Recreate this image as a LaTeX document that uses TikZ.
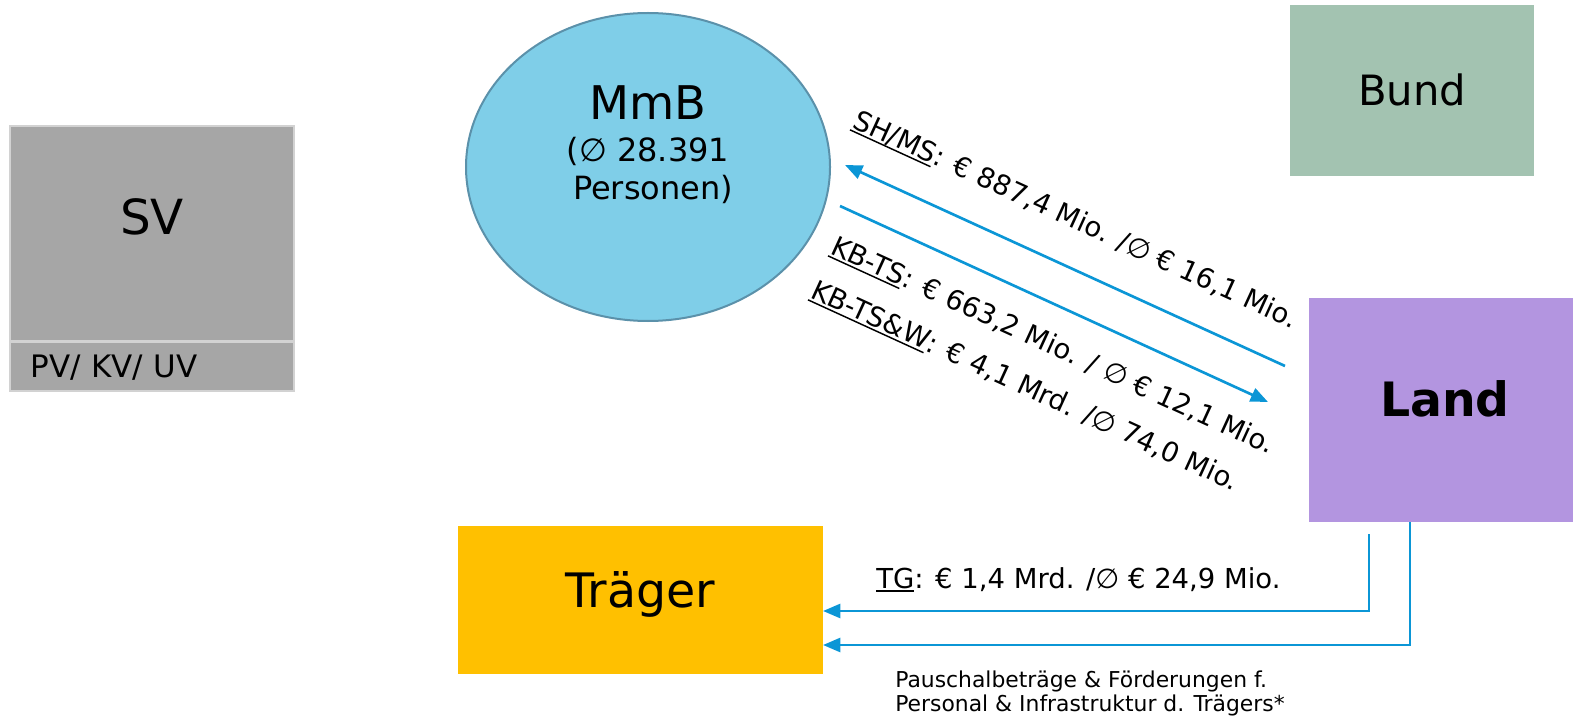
\documentclass[tikz,border=0pt]{standalone}
\usepackage{fontspec}
\setmainfont{DejaVu Sans}
\usetikzlibrary{arrows.meta,shapes.geometric}
\definecolor{svgray}{HTML}{A6A6A6}
\definecolor{svline}{HTML}{D2D2D2}
\definecolor{mmbfill}{HTML}{7FCEE8}
\definecolor{mmbline}{HTML}{5B91AA}
\definecolor{bundfill}{HTML}{A3C3B1}
\definecolor{landfill}{HTML}{B395E0}
\definecolor{traegerfill}{HTML}{FFC000}
\definecolor{arrowblue}{HTML}{0B96D6}
\newcommand\myul[1]{\setbox0\hbox{#1}\rlap{\rule[-2.8pt]{\wd0}{1.1pt}}\box0}
\begin{document}
\begin{tikzpicture}[x=0.75pt,y=-0.75pt,
  box/.style={rectangle, inner sep=0pt, outer sep=0pt},
  flow/.style={draw=arrowblue, line width=2pt, -{Triangle[length=13pt,width=10.5pt]}},
  lbl/.style={inner sep=0pt, anchor=base west, font=\fontsize{20.6}{24}\selectfont},
  small/.style={inner sep=0pt, anchor=base west, font=\fontsize{16.4}{19}\selectfont},
]
\useasboundingbox (0,0) rectangle (1573,720);

% SV
\node[box, fill=svgray, draw=svline, line width=1.5pt, minimum width=213pt, minimum height=161.25pt,
      font=\fontsize{36.3}{40}\selectfont, text height=26.4pt, text depth=25.5pt] (sv) at (152,233.5) {SV};
\node[box, fill=svgray, draw=svline, line width=1.5pt, minimum width=213pt, minimum height=36.75pt,
      font=\fontsize{23.2}{26}\selectfont, text width=181.5pt, align=left, text height=16.9pt, text depth=0pt] (svpv) at (152,366.5) {PV/ KV/ UV};

% MmB
\node[ellipse, fill=mmbfill, draw=mmbline, line width=1.5pt, minimum width=273pt, minimum height=231pt, inner sep=0pt] (mmb) at (648,167) {};
\node[inner sep=0pt, anchor=base, font=\fontsize{34.8}{40}\selectfont] (mmbA) at (648,120) {MmB};
\node[inner sep=0pt, anchor=base, font=\fontsize{24}{28}\selectfont] (mmbB) at (648,162) {(∅ 28.391};
\node[inner sep=0pt, anchor=base, font=\fontsize{24}{28}\selectfont] (mmbC) at (653,200) {Personen)};

% Bund
\node[box, fill=bundfill, minimum width=183pt, minimum height=128.25pt,
      font=\fontsize{31.3}{36}\selectfont, text height=22.8pt, text depth=0pt] (bund) at (1412,90.5) {Bund};

% Land
\node[box, fill=landfill, minimum width=198pt, minimum height=168pt,
      font=\fontsize{35.5}{40}\selectfont\bfseries, text height=25.9pt, text depth=16.5pt] (land) at (1441,410) {\hspace*{6pt}Land};

% Traeger
\node[box, fill=traegerfill, minimum width=273.75pt, minimum height=111pt,
      font=\fontsize{35.6}{40}\selectfont, text height=26pt, text depth=14.25pt] (traeger) at (640.5,600) {Träger};

% connector end points
\coordinate (shmsS) at (1285,366);
\coordinate (shmsE) at (845,165);
\coordinate (kbS) at (840,206);
\coordinate (kbE) at (1268,402);
\coordinate (tgS) at (1369,534);

\draw[flow] (shmsS) -- (shmsE);
\draw[flow] (kbS) -- (kbE);
\draw[flow] (tgS) |- ([yshift=-8.25pt]traeger.east);
\draw[flow] ([xshift=-23.25pt]land.south) |- ([yshift=-33.75pt]traeger.east);

% labels
\node[lbl, rotate=-24.6] (lshms) at (851,127) {\myul{SH/MS}: € 887,4 Mio. /∅ € 16,1 Mio.};
\node[lbl, rotate=-24.6] (lkbts) at (829,253) {\myul{KB-TS}: € 663,2 Mio. / ∅ € 12,1 Mio.};
\node[lbl, rotate=-24.6] (lkbtsw) at (809,297) {\myul{KB-TS\&W}: € 4,1 Mrd. /∅ 74,0 Mio.};
\node[lbl] (ltg) at (876,588) {\myul{TG}: € 1,4 Mrd. /∅ € 24,9 Mio.};
\node[small] (lp1) at (895,687) {Pauschalbeträge \& Förderungen f.};
\node[small] (lp2) at (895,711) {Personal \& Infrastruktur d. Trägers*};
\end{tikzpicture}
\end{document}
